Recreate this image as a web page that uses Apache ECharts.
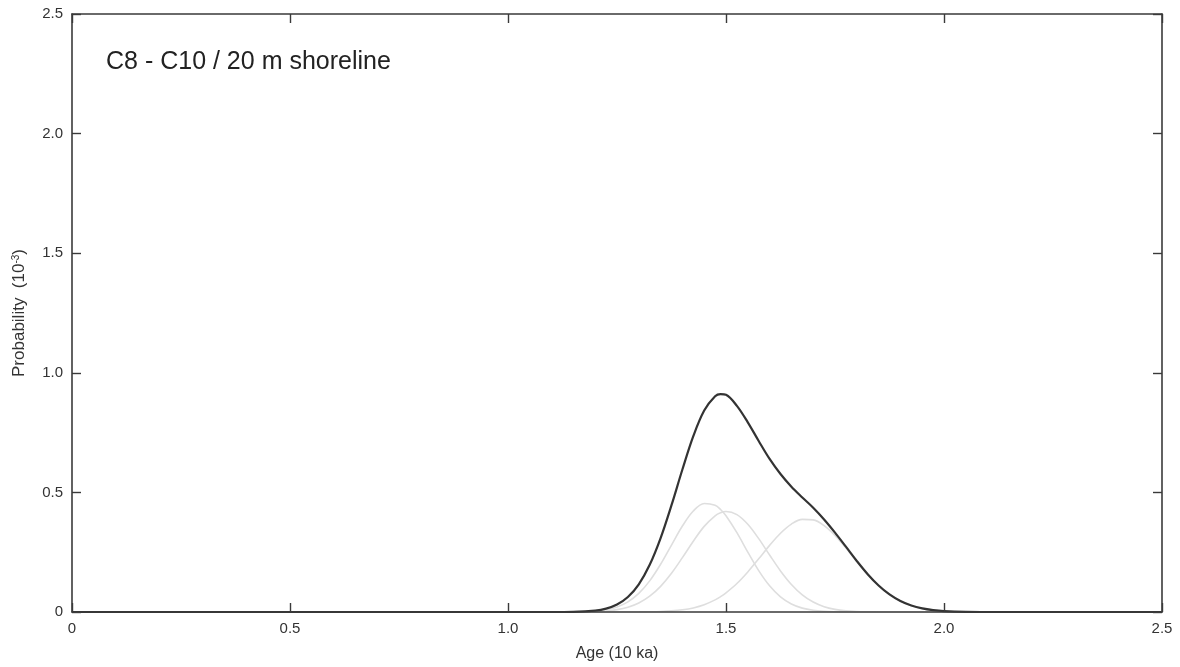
<!DOCTYPE html>
<html>
<head>
<meta charset="utf-8">
<title>C8 - C10 / 20 m shoreline</title>
<script src="https://cdn.jsdelivr.net/npm/echarts@6/dist/echarts.min.js"></script>
<style>
  html, body { margin: 0; padding: 0; background: #ffffff; }
  #chart { width: 1180px; height: 667px; }
</style>
</head>
<body>
<div id="chart"></div>
<script>
// Age grid (10 ka) shared by all curves
const ages = [0, 1.10, 1.15, 1.20, 1.225, 1.25, 1.275, 1.30, 1.325, 1.35, 1.375, 1.40, 1.425, 1.45, 1.475, 1.4875, 1.50,
  1.525, 1.55, 1.575, 1.60, 1.625, 1.65, 1.675, 1.70, 1.725, 1.75, 1.775, 1.80, 1.825, 1.85, 1.875, 1.90,
  1.925, 1.95, 1.975, 2.00, 2.05, 2.10, 2.5];

// Individual sample probability curves (10^-3)
const sampleA = [0, 0.0001, 0.0006, 0.0041, 0.0097, 0.0213, 0.0425, 0.0777, 0.1302, 0.1995, 0.2799, 0.3593, 0.4221, 0.4539, 0.4467, 0.4287, 0.4024,
  0.3317, 0.2503, 0.1729, 0.1093, 0.0632, 0.0335, 0.0162, 0.0072, 0.0029, 0.0011, 0.0004, 0.0001, 0, 0, 0, 0,
  0, 0, 0, 0, 0, 0, 0];
const sampleB = [0, 0, 0.0003, 0.0019, 0.0045, 0.0099, 0.0200, 0.0377, 0.0660, 0.1073, 0.1620, 0.2272, 0.2959, 0.3580, 0.4023, 0.4148, 0.4200,
  0.4071, 0.3666, 0.3066, 0.2381, 0.1718, 0.1152, 0.0717, 0.0415, 0.0223, 0.0111, 0.0051, 0.0022, 0.0009, 0.0003, 0.0001, 0,
  0, 0, 0, 0, 0, 0, 0];
const sampleC = [0, 0, 0, 0, 0, 0.0001, 0.0002, 0.0004, 0.0010, 0.0022, 0.0046, 0.0091, 0.0171, 0.0303, 0.0506, 0.0641, 0.0800,
  0.1191, 0.1675, 0.2224, 0.2786, 0.3294, 0.3676, 0.3872, 0.3850, 0.3613, 0.3200, 0.2675, 0.2111, 0.1572, 0.1105, 0.0733, 0.0459,
  0.0271, 0.0151, 0.0080, 0.0040, 0.0008, 0.0001, 0];

// Summed probability curve (10^-3)
const summed = [0, 0.0001, 0.0009, 0.0060, 0.0142, 0.0313, 0.0627, 0.1158, 0.1972, 0.3090, 0.4465, 0.5956, 0.7351, 0.8422, 0.9020, 0.9110, 0.9080,
  0.8620, 0.7930, 0.7150, 0.6400, 0.5770, 0.5240, 0.4790, 0.4360, 0.3870, 0.3320, 0.2730, 0.2134, 0.1581, 0.1108, 0.0734, 0.0459,
  0.0271, 0.0151, 0.0080, 0.0040, 0.0008, 0.0001, 0];

const xTickLabels = ['0', '0.5', '1.0', '1.5', '2.0', '2.5'];
const yTickLabels = ['0', '0.5', '1.0', '1.5', '2.0', '2.5'];

const chartTitle = 'C8 - C10 / 20 m shoreline';
const xName = 'Age (10 ka)';

const pairs = ys => ages.map((a, i) => [a, ys[i]]);

const AXIS_COLOR = '#3a3a3a';
const FONT = '"Liberation Sans", Arial, Helvetica, sans-serif';

function frameAxis(extra) {
  return Object.assign({
    type: 'value',
    min: 0,
    max: 2.5,
    interval: 0.5,
    z: 10,
    splitLine: { show: false },
    axisLine: { show: true, onZero: false, lineStyle: { color: AXIS_COLOR, width: 1.6 } },
    axisTick: { show: true, inside: true, length: 9, lineStyle: { color: AXIS_COLOR, width: 1.4 } },
    axisLabel: { show: false }
  }, extra);
}

const tickLabelStyle = { color: '#333', fontSize: 15, fontFamily: FONT };

const chart = echarts.init(document.getElementById('chart'), null, { renderer: 'canvas' });

function curve(name, ys, color, width, z) {
  return {
    type: 'line',
    name: name,
    data: pairs(ys),
    xAxisIndex: 0,
    yAxisIndex: 0,
    smooth: 0.35,
    symbol: 'none',
    lineStyle: { color: color, width: width },
    z: z
  };
}

chart.setOption({
  animation: false,
  backgroundColor: '#ffffff',
  title: {
    text: chartTitle,
    left: 101,
    top: 45,
    textStyle: { color: '#222', fontSize: 25, fontWeight: 'normal', fontFamily: FONT }
  },
  grid: { left: 72, right: 18, top: 14, bottom: 54, containLabel: false },
  xAxis: [
    frameAxis({
      position: 'bottom',
      name: xName,
      nameLocation: 'middle',
      nameGap: 34,
      nameTextStyle: { color: '#333', fontSize: 16, fontFamily: FONT },
      axisLabel: Object.assign({
        show: true,
        margin: 9,
        formatter: v => xTickLabels[Math.round(v / 0.5)]
      }, tickLabelStyle)
    }),
    frameAxis({ position: 'top' })
  ],
  yAxis: [
    frameAxis({
      position: 'left',
      name: 'Probability  (10{sup|-3})',
      nameLocation: 'middle',
      nameGap: 44,
      nameTextStyle: {
        color: '#333', fontSize: 17, fontFamily: FONT,
        rich: { sup: { fontSize: 10, verticalAlign: 'top', color: '#333', fontFamily: FONT } }
      },
      axisLabel: Object.assign({
        show: true,
        margin: 9,
        formatter: v => yTickLabels[Math.round(v / 0.5)]
      }, tickLabelStyle)
    }),
    frameAxis({ position: 'right' })
  ],
  series: [
    curve('A', sampleA, '#dedede', 1.6, 2),
    curve('B', sampleB, '#dedede', 1.6, 2),
    curve('C', sampleC, '#dedede', 1.6, 2),
    curve('Sum', summed, '#333333', 2.2, 3)
  ]
});
</script>
</body>
</html>
